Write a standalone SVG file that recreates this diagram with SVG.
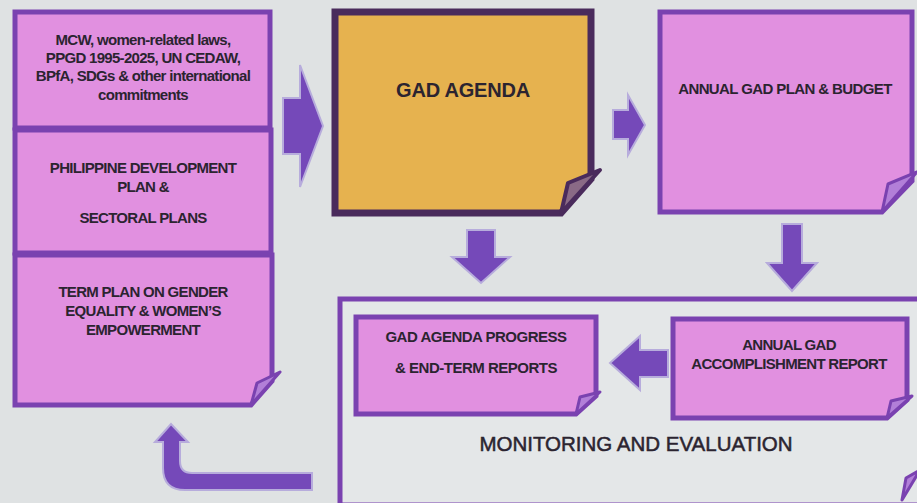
<svg xmlns="http://www.w3.org/2000/svg" width="917" height="503" viewBox="0 0 917 503">
<style>
.bg{fill:#dfe2e3}
.pink{fill:#e190e0;stroke:#7a42b0;stroke-width:5;stroke-linejoin:miter}
.gold{fill:#e6b24f;stroke:#4a2b5c;stroke-width:7}
.frame{fill:#e4e7e8;stroke:#7a42b0;stroke-width:5}
.flap{fill:#b27fd8;stroke:#7a42b0;stroke-width:3;stroke-linejoin:round}
.flapd{fill:#8a6a86;stroke:#4a2b5c;stroke-width:4;stroke-linejoin:round}
.arr{fill:#7549b9;stroke:#b7acdc;stroke-width:2;stroke-linejoin:miter}
text{font-family:"Liberation Sans",Arial,sans-serif;fill:#2b2430;text-anchor:middle}
.t{font-size:15px;font-weight:bold;letter-spacing:-0.7px}
.big{font-size:20px;font-weight:bold;letter-spacing:-0.2px}
.me{font-size:20.5px;stroke:#2b2430;stroke-width:0.5}
</style>
<rect class="bg" x="0" y="0" width="917" height="503"/>

<g id="monitoring">
<path class="frame" d="M340,299 H925 V505 H340 Z"/>
<polygon class="flap" points="902,500 920,470 906,478"/>
<text class="me" x="636" y="451">MONITORING AND EVALUATION</text>
</g>

<g id="box-mcw">
<rect class="pink" x="15" y="12" width="255" height="116"/>
<text class="t" x="143" y="45">MCW, women-related laws,</text>
<text class="t" x="143" y="63">PPGD 1995-2025, UN CEDAW,</text>
<text class="t" x="143" y="81">BPfA, SDGs &amp; other international</text>
<text class="t" x="143" y="100">commitments</text>
</g>

<g id="box-pdp">
<rect class="pink" x="15" y="130" width="256" height="123"/>
<text class="t" x="143" y="173">PHILIPPINE DEVELOPMENT</text>
<text class="t" x="143" y="192">PLAN &amp;</text>
<text class="t" x="143" y="223">SECTORAL PLANS</text>
</g>

<g id="box-term">
<path class="pink" d="M15,255 H272 V381 L251,405 H15 Z"/>
<polygon class="flap" points="251,405 280,372 257,383"/>
<text class="t" x="143" y="297">TERM PLAN ON GENDER</text>
<text class="t" x="143" y="316">EQUALITY &amp; WOMEN’S</text>
<text class="t" x="143" y="335">EMPOWERMENT</text>
</g>

<g id="box-agenda">
<path class="gold" d="M335,12 H591 V179 L561,213 H335 Z"/>
<polygon class="flapd" points="561,213 600,170 568,183"/>
<text class="big" x="463" y="97">GAD AGENDA</text>
</g>

<g id="box-plan">
<path class="pink" d="M660,12 H912 V181 L882,212 H660 Z"/>
<polygon class="flap" points="882,212 917,172 888,184"/>
<text class="t" x="785" y="94" style="letter-spacing:-0.6px">ANNUAL GAD PLAN &amp; BUDGET</text>
</g>

<g id="box-progress">
<path class="pink" d="M356,317 H596 V396 L576,414 H356 Z"/>
<polygon class="flap" points="576,414 600,392 580,397"/>
<text class="t" x="476" y="342" style="letter-spacing:-0.5px">GAD AGENDA PROGRESS</text>
<text class="t" x="476" y="373" style="letter-spacing:-0.5px">&amp; END-TERM REPORTS</text>
</g>

<g id="box-accomplishment">
<path class="pink" d="M673,319 H907 V400 L887,418 H673 Z"/>
<polygon class="flap" points="887,418 912,396 891,401"/>
<text class="t" x="789" y="350">ANNUAL GAD</text>
<text class="t" x="789" y="369">ACCOMPLISHMENT REPORT</text>
</g>

<g id="connectors">
<polygon class="arr" points="283,98 300,98 300,65 323,126 300,187 300,154 283,154"/>
<polygon class="arr" points="613,110 628,110 628,95 645,125 628,155 628,139 613,139"/>
<polygon class="arr" points="467,230 495,230 495,257 510,257 481,283 452,257 467,257"/>
<polygon class="arr" points="782,224 802,224 802,263 817,263 792,291 767,263 782,263"/>
<polygon class="arr" points="668,350 640,350 640,336 610,363 640,390 640,377 668,377"/>
<path class="arr" d="M312,473 H192 Q180,473 180,461 V442 H188 L171,424 L155,442 H163 V468 Q163,490 185,490 H312 Z"/>
</g>
</svg>
